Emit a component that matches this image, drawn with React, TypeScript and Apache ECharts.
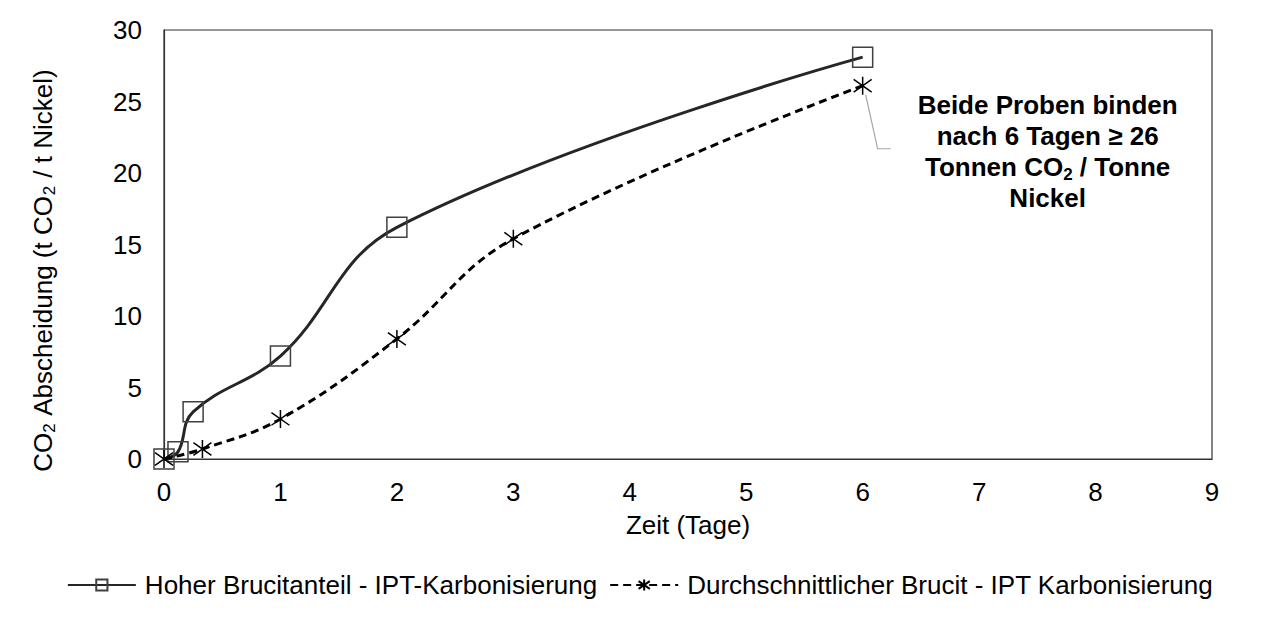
import React, { useEffect, useRef } from "react";
import * as echarts from "echarts";

const seriesNames = [
  "Hoher Brucitanteil - IPT-Karbonisierung",
  "Durchschnittlicher Brucit - IPT Karbonisierung",
];
const days1 = [0, 0.12, 0.25, 1, 2, 6];
const values1 = [0, 0.5, 3.3, 7.2, 16.2, 28.1];
const days2 = [0, 0.33, 1, 2, 3, 6];
const values2 = [0, 0.7, 2.8, 8.4, 15.4, 26.1];
const xMin = 0;
const xMax = 9;
const xStep = 1;
const yMin = 0;
const yMax = 30;
const yStep = 5;
const xTitle = "Zeit (Tage)";
const yTitleRich = "{n|CO}{s|2}{n| Abscheidung (t CO}{s|2}{n| / t Nickel)}";
const noteRich = [
  "{b|Beide Proben binden}",
  "{b|nach 6 Tagen ≥ 26}",
  "{b|Tonnen CO}{bs|2}{b| / Tonne}",
  "{b|Nickel}",
].join("\n");
const noteIndex = 5;

const FONT = "'Liberation Sans', Arial, sans-serif";
const INK = "#262626";
const FS = 26;
const STAR = "path://M10 0L10 20M1 3L19 17M1 17L19 3";

export default function App() {
  const ref = useRef<HTMLDivElement>(null);
  useEffect(() => {
    if (!ref.current) return;
    const chart = echarts.init(ref.current, undefined, { renderer: "svg" });
    const pairs = (xs: number[], ys: number[]) => xs.map((x, i) => [x, ys[i]]);
    chart.setOption({
      animation: false,
      backgroundColor: "#fff",
      textStyle: { fontFamily: FONT },
      grid: {
        left: 164,
        right: 68,
        top: 30,
        bottom: 164,
        show: true,
        borderColor: "#333",
        borderWidth: 1.2,
      },
      xAxis: {
        type: "value",
        min: xMin,
        max: xMax,
        interval: xStep,
        name: xTitle,
        nameLocation: "middle",
        nameGap: 53,
        nameTextStyle: { fontSize: FS, color: "#000", fontFamily: FONT },
        axisLine: { lineStyle: { color: "#333", width: 1.2 } },
        axisTick: { show: false },
        splitLine: { show: false },
        axisLabel: { fontSize: FS, color: "#000", margin: 20, fontFamily: FONT },
      },
      yAxis: {
        type: "value",
        min: yMin,
        max: yMax,
        interval: yStep,
        name: yTitleRich,
        nameLocation: "middle",
        nameGap: 106,
        nameTextStyle: {
          fontFamily: FONT,
          padding: [0, 52, 0, 0],
          rich: {
            n: { fontSize: FS, color: "#000", fontFamily: FONT, lineHeight: 30 },
            s: {
              fontSize: 17,
              color: "#000",
              fontFamily: FONT,
              verticalAlign: "bottom",
              lineHeight: 30,
              padding: [0, 1, 0, 0],
            },
          },
        },
        axisLine: { show: true, lineStyle: { color: "#333", width: 1.2 } },
        axisTick: { show: false },
        splitLine: { show: false },
        axisLabel: { fontSize: FS, color: "#000", margin: 22, fontFamily: FONT },
      },
      legend: {
        top: 567,
        left: "center",
        itemWidth: 68,
        itemHeight: 14,
        itemGap: 12,
        textStyle: { fontSize: FS, color: "#000", fontFamily: FONT, padding: [0, 0, 0, 4] },
        data: seriesNames,
      },
      series: [
        {
          name: seriesNames[0],
          type: "line",
          data: pairs(days1, values1),
          smooth: 0.4,
          symbol: "rect",
          symbolSize: 20,
          lineStyle: { color: INK, width: 3 },
          itemStyle: { color: "rgba(255,255,255,0)", borderColor: "#404040", borderWidth: 1.5 },
          z: 2,
        },
        {
          name: seriesNames[1],
          type: "line",
          data: pairs(days2, values2),
          smooth: 0.4,
          symbol: STAR,
          symbolSize: 18,
          lineStyle: { color: "#000", width: 3, type: [8, 5] },
          itemStyle: { color: "#000", borderColor: "#000", borderWidth: 1.5 },
          z: 3,
        },
      ],
    });

    const anchor = chart.convertToPixel({ gridIndex: 0 }, [days2[noteIndex], values2[noteIndex]]) as number[];
    const ax = anchor[0];
    const ay = anchor[1];
    chart.setOption({
      graphic: [
        {
          type: "polyline",
          shape: {
            points: [
              [ax + 3, ay + 9],
              [ax + 15, ay + 63],
              [ax + 28, ay + 63],
            ],
          },
          style: { stroke: "#a6a6a6", lineWidth: 1.2, fill: "none" },
          silent: true,
        },
        {
          type: "text",
          x: ax + 185,
          y: ay + 4,
          style: {
            text: noteRich,
            align: "center",
            verticalAlign: "top",
            rich: {
              b: { fontSize: FS, fontWeight: "bold", fill: "#000", fontFamily: FONT, lineHeight: 31 },
              bs: {
                fontSize: 17,
                fontWeight: "bold",
                fill: "#000",
                fontFamily: FONT,
                lineHeight: 31,
                verticalAlign: "bottom",
              },
            },
          },
          silent: true,
        },
      ],
    });
    return () => chart.dispose();
  }, []);
  return (
    <div
      ref={ref}
      style={{ position: "fixed", left: 0, top: 0, width: 1280, height: 623, background: "#fff" }}
    />
  );
}
